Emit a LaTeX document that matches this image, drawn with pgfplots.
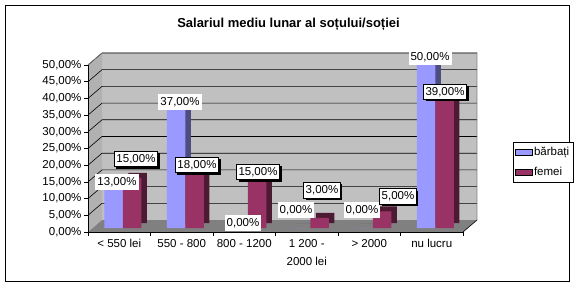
\documentclass[border=0pt]{standalone}
\usepackage{pgfplots}
\pgfplotsset{compat=1.18}
\usepackage{pgfplotstable}
\usepackage{fontspec}
\setmainfont{Liberation Sans}
\usetikzlibrary{shadows}
\definecolor{cblue}{HTML}{9999FF}
\definecolor{cmar}{HTML}{993366}
\definecolor{cblued}{HTML}{4D4D80}
\definecolor{cmard}{HTML}{4D1A33}
\definecolor{wallc}{HTML}{C0C0C0}
\definecolor{floorc}{HTML}{808080}

\pgfplotstableread{
x men dxm dym women dxw dyw
0 13 7 6.6 15 7.5 23
1 37 7.5 6.4 18 6 7
2 0 8 9 15 4.5 10
3 0 -1.5 22 3 6 32
4 0 2 22 5 19.5 19
5 50 7.5 8 39 4 10
}\data

\begin{document}
\begin{tikzpicture}[x=1pt,y=1pt]
\useasboundingbox (0,0) rectangle (576,287);
\fill[white] (0,0) rectangle (576,287);
\draw[black, line width=0.8pt] (5.5,6) rectangle (569.5,282);
% walls
\fill[wallc] (102,67) rectangle (477,234);
\fill[wallc!92!black] (88,55) -- (102,67) -- (102,234) -- (88,222) -- cycle;
\fill[floorc] (88,55) -- (463,55) -- (477,67) -- (102,67) -- cycle;
\foreach \v in {5,10,...,50}{
  \draw[black, line width=0.6pt] (88,55+3.34*\v) -- (102,67+3.34*\v) -- (477,67+3.34*\v);
}
\draw[floorc, line width=0.6pt] (88,222) -- (102,234) -- (477,234) -- (477,67);
\draw[black, line width=0.6pt] (463,55) -- (477,67);
\node[font=\fontsize{13}{15}\selectfont\bfseries] at (288.5,263) {Salariul mediu lunar al soțului/soției};
\begin{axis}[
  at={(88pt,55pt)}, anchor=south west,
  scale only axis, width=375pt, height=167pt,
  xmin=-0.5, xmax=5.5, ymin=0, ymax=50,
  axis lines*=left,
  axis line style={black, line width=0.6pt},
  ybar, bar width=18.5pt,
  /pgf/number format/assume math mode=true,
  tick align=outside, major tick length=4pt, minor tick length=4pt,
  ytick={0,5,...,50},
  yticklabel={\pgfmathprintnumber[fixed,fixed zerofill,precision=2,use comma]{\tick}\%},
  yticklabel style={xshift=1pt},
  xtick={0,...,5},
  xticklabels={{< 550 lei},{550 - 800},{800 - 1200},{1 200 -\\2000 lei},{> 2000},{nu lucru}},
  every major x tick/.append style={draw=none},
  minor xtick={-0.5,0.5,...,5.5},
  every minor x tick/.append style={black, line width=0.6pt},
  every major y tick/.append style={black, line width=0.6pt},
  tick label style={font=\fontsize{11.5}{18}\selectfont},
  xticklabel style={align=center},
  nodes near coords align={anchor=center},
  legend style={at={(1.133,0.539)}, anchor=north west, draw=black, fill=white,
    font=\fontsize{11.5}{13}\selectfont, inner xsep=1.5pt, inner ysep=3pt, row sep=6pt,
    cells={anchor=west}},
  legend cell align=left,
]
\addplot[forget plot, fill=cblued, draw=none, bar shift=-9.25pt, xshift=9pt, yshift=9pt] table[x=x,y=men]{\data};
\addplot[forget plot, fill=cblue, draw=none, bar shift=-9.25pt, xshift=3.5pt, yshift=4pt] table[x=x,y=men]{\data};
\addplot[forget plot, fill=cmard, draw=none, bar shift=9.25pt, xshift=9pt, yshift=9pt] table[x=x,y=women]{\data};
\addplot[forget plot, fill=cmar, draw=none, bar shift=9.25pt, xshift=3.5pt, yshift=4pt] table[x=x,y=women]{\data};
\addplot[forget plot, draw=none, fill=none, bar shift=-9.25pt,
  nodes near coords={\pgfmathprintnumber[fixed,fixed zerofill,precision=2,use comma]{\pgfplotspointmeta}\%},
  visualization depends on={\thisrow{dxm}\as\dx},
  visualization depends on={\thisrow{dym}\as\dy},
  every node near coord/.append style={xshift=\dx pt, yshift=\dy pt, fill=white, anchor=center,
    font=\fontsize{11.5}{13}\selectfont, inner xsep=2pt, inner ysep=3pt}] table[x=x,y=men]{\data};
\addplot[forget plot, draw=none, fill=none, bar shift=9.25pt,
  nodes near coords={\pgfmathprintnumber[fixed,fixed zerofill,precision=2,use comma]{\pgfplotspointmeta}\%},
  visualization depends on={\thisrow{dxw}\as\dx},
  visualization depends on={\thisrow{dyw}\as\dy},
  every node near coord/.append style={xshift=\dx pt, yshift=\dy pt, fill=white, draw=black, anchor=center,
    drop shadow={shadow xshift=2pt, shadow yshift=-2pt, fill=black, opacity=1},
    font=\fontsize{11.5}{13}\selectfont, inner xsep=2pt, inner ysep=3pt}] table[x=x,y=women]{\data};
\addlegendimage{area legend, fill=cblue, draw=black}
\addlegendentry{bărbați}
\addlegendimage{area legend, fill=cmar, draw=black}
\addlegendentry{femei}
\end{axis}
\end{tikzpicture}
\end{document}
